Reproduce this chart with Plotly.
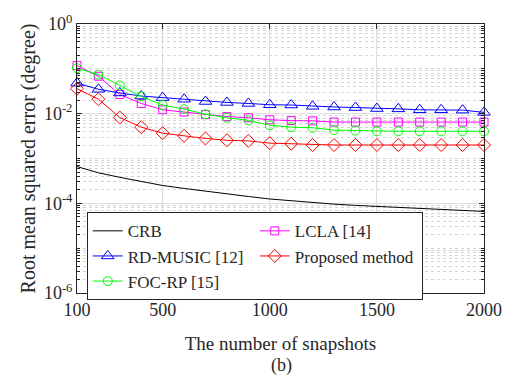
import plotly.graph_objects as go

snapshots = [100, 200, 300, 400, 500, 600, 700, 800, 900, 1000,
             1100, 1200, 1300, 1400, 1500, 1600, 1700, 1800, 1900, 2000]

crb = [6.6e-4, 4.8e-4, 3.8e-4, 3.1e-4, 2.5e-4, 2.15e-4, 1.85e-4, 1.6e-4, 1.42e-4, 1.25e-4,
       1.13e-4, 1.03e-4, 9.6e-5, 9.0e-5, 8.5e-5, 8.0e-5, 7.6e-5, 7.2e-5, 6.9e-5, 6.6e-5]
rd_music = [0.048, 0.035, 0.029, 0.0247, 0.0228, 0.021, 0.0187, 0.0178, 0.0169, 0.0158,
            0.0156, 0.0146, 0.0141, 0.0137, 0.013, 0.0128, 0.0122, 0.0122, 0.012, 0.0107]
foc_rp = [0.103, 0.0744, 0.0425, 0.0243, 0.0156, 0.0126, 0.0097, 0.0081, 0.0071, 0.0055,
          0.0050, 0.00485, 0.0043, 0.0042, 0.00405, 0.00405, 0.00405, 0.00405, 0.00405, 0.00405]
lcla = [0.118, 0.0685, 0.0268, 0.0169, 0.0122, 0.0109, 0.0095, 0.0086, 0.0081, 0.0073,
        0.0070, 0.0069, 0.0065, 0.0065, 0.0065, 0.0065, 0.0065, 0.0065, 0.0065, 0.0065]
proposed = [0.036, 0.021, 0.0082, 0.005, 0.00367, 0.0032, 0.0028, 0.00255, 0.00247, 0.0022,
            0.00213, 0.002, 0.002, 0.002, 0.002, 0.002, 0.002, 0.002, 0.002, 0.002]

x_ticks = [100, 500, 1000, 1500, 2000]
y_tickvals = [1e-6, 1e-4, 1e-2, 1]
y_ticktext = ["10<sup>-6</sup>", "10<sup>-4</sup>", "10<sup>-2</sup>", "10<sup>0</sup>"]

FONT = "Liberation Serif"

fig = go.Figure()
# order chosen so the 2-column horizontal legend reads column-wise like the reference
fig.add_trace(go.Scatter(x=snapshots, y=crb, name="CRB", mode="lines", cliponaxis=False,
                         line=dict(color="black", width=1)))
fig.add_trace(go.Scatter(x=snapshots, y=lcla, name="LCLA [14]", mode="lines+markers", cliponaxis=False,
                         line=dict(color="#ff00ff", width=1),
                         marker=dict(symbol="square-open", size=8, color="#ff00ff", line=dict(width=1))))
fig.add_trace(go.Scatter(x=snapshots, y=rd_music, name="RD-MUSIC [12]", mode="lines+markers", cliponaxis=False,
                         line=dict(color="#0000ff", width=1),
                         marker=dict(symbol="triangle-up-open", size=11, color="#0000ff", line=dict(width=1))))
fig.add_trace(go.Scatter(x=snapshots, y=proposed, name="Proposed method", mode="lines+markers", cliponaxis=False,
                         line=dict(color="#ff0000", width=1),
                         marker=dict(symbol="diamond-open", size=10, color="#ff0000", line=dict(width=1))))
fig.add_trace(go.Scatter(x=snapshots, y=foc_rp, name="FOC-RP [15]", mode="lines+markers", cliponaxis=False,
                         line=dict(color="#00ff00", width=1),
                         marker=dict(symbol="circle-open", size=9, color="#00ff00", line=dict(width=1))))

minor_vals = [k * 10.0 ** n for n in range(-6, 0) for k in range(2, 10)] + [1e-5, 1e-3, 1e-1]

fig.update_layout(
    width=514, height=379,
    margin=dict(l=77, r=27, t=13, b=86),
    paper_bgcolor="white", plot_bgcolor="white",
    font=dict(family=FONT, size=18, color="#262626"),
    showlegend=True,
    legend=dict(orientation="h", x=0.024, y=0.30, xanchor="left", yanchor="top",
                bgcolor="white", bordercolor="#262626", borderwidth=1,
                font=dict(family=FONT, size=17, color="#262626"),
                entrywidth=122, entrywidthmode="pixels", tracegroupgap=0),
    xaxis=dict(range=[100, 2000], tickmode="array", tickvals=x_ticks,
               ticks="inside", ticklen=5, tickcolor="#262626",
               showline=True, linecolor="#262626", linewidth=1, mirror="ticks",
               showgrid=True, gridcolor="#dcdcdc", gridwidth=1, zeroline=False,
               title=dict(text="The number of snapshots", font=dict(size=19), standoff=18),
               tickfont=dict(size=18)),
    yaxis=dict(type="log", range=[-6, 0], tickmode="array", tickvals=y_tickvals, ticktext=y_ticktext,
               ticks="inside", ticklen=5, tickcolor="#262626",
               showline=True, linecolor="#262626", linewidth=1, mirror="ticks",
               showgrid=True, gridcolor="#dcdcdc", gridwidth=1, zeroline=False,
               minor=dict(tickmode="array", tickvals=minor_vals, ticks="inside", ticklen=3,
                          tickcolor="#262626", showgrid=True, gridcolor="#d4d4d4",
                          griddash="dot", gridwidth=1),
               title=dict(text="Root mean squared error (degree)", font=dict(size=20), standoff=2),
               tickfont=dict(size=18)),
    annotations=[dict(text="(b)", x=0.502, y=-(368 - 293) / 280.0, xref="paper", yref="paper",
                      yanchor="middle", showarrow=False,
                      font=dict(size=18, family=FONT, color="#262626"))],
)

fig.write_html("out.html")
